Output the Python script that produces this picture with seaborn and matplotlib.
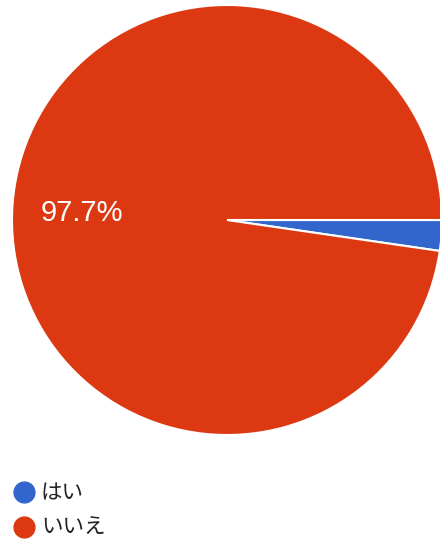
import matplotlib
matplotlib.use("Agg")
import matplotlib.pyplot as plt
from matplotlib.lines import Line2D
import seaborn as sns

labels = ["はい", "いいえ"]
values = [2.3, 97.7]
colors = ["#3366CC", "#DC3912"]

sns.set_theme(style="white")
plt.rcParams['font.family'] = ['Noto Sans CJK JP', 'DejaVu Sans']

fig = plt.figure(figsize=(4.4, 5.42), dpi=100)
ax = fig.add_axes([0, 0, 1, 1])
cx, cy, r = 227, 542 - 220, 215
wedges, _ = ax.pie(values, colors=colors, startangle=0, counterclock=False,
                   center=(cx, cy), radius=r,
                   wedgeprops=dict(edgecolor="white", linewidth=1.5))
ax.set_xlim(0, 440)
ax.set_ylim(0, 542)
ax.set_aspect("equal")
ax.axis("off")

ax.text(82, 542 - 213, "97.7%", color="white", fontsize=21, ha="center", va="center",
        family=["Liberation Sans", "DejaVu Sans"])

handles = [Line2D([0], [0], marker="o", linestyle="", markersize=15,
                  markerfacecolor=c, markeredgecolor=c) for c in colors]
leg = fig.legend(handles, labels, loc="upper left", bbox_to_anchor=(0.0, 0.1265),
                 frameon=False, fontsize=15.5, handletextpad=0.1, labelspacing=0.62,
                 borderaxespad=0, handlelength=1.4)
for t in leg.get_texts():
    t.set_color("#222222")

fig.savefig("out.png", dpi=100)
